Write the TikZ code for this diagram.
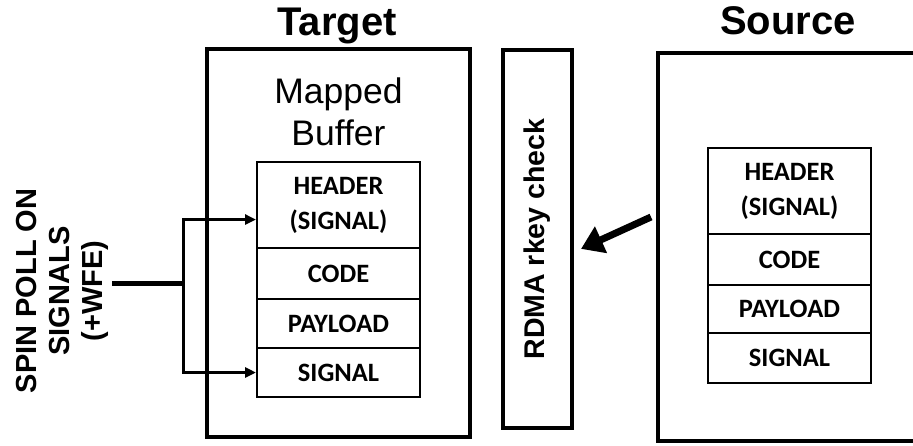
\documentclass[tikz,border=0pt]{standalone}
\usepackage{fontspec}
\setmainfont{Liberation Sans}
\newfontfamily\cellfont{Carlito}
\usetikzlibrary{arrows.meta}

\begin{document}
\begin{tikzpicture}[
      x=1pt, y=-1pt,
      outer/.style={rectangle,
                    draw,
                    line width=3.5pt,
                    minimum width=263pt,
                    minimum height=388pt},
      gate/.style={rectangle,
                   draw,
                   line width=3.5pt,
                   rotate=90,
                   minimum width=378pt,
                   minimum height=69pt,
                   font=\bfseries\fontsize{28.5}{32}\selectfont},
      cell/.style={rectangle,
                   draw,
                   line width=2pt,
                   minimum width=163pt,
                   inner sep=0pt,
                   align=center,
                   font=\cellfont\bfseries\fontsize{26.5}{35}\selectfont},
      title/.style={anchor=base,
                    font=\bfseries\fontsize{40}{46}\selectfont},
      side/.style={rotate=90,
                   align=center,
                   inner sep=4pt,
                   font=\bfseries\fontsize{29}{33}\selectfont},
      tip/.style={line width=3pt,
                  -{Triangle[length=11pt,width=10pt]}},
      push/.style={line width=7pt,
                   -{Triangle[length=22pt,width=28pt]},
                   shorten >=8pt}
    ]
    \useasboundingbox (0,0) rectangle (913,445);

    % titles
    \draw (337,35) node[title] (ttitle) {Target};
    \draw (788,34) node[title] (stitle) {Source};

    % target side
    \draw (338.5,243) node[outer] (target) {};
    \draw (338.5,112)
          node[align=center, font=\fontsize{35.5}{42}\selectfont]
          (mapped)
          {Mapped\\Buffer};
    \draw (338.5,205)   node[cell, minimum height=86pt] (thdr) {HEADER\\(SIGNAL)};
    \draw (338.5,273.5) node[cell, minimum height=51pt] (tcode) {CODE};
    \draw (338.5,323.5) node[cell, minimum height=49pt] (tload) {PAYLOAD};
    \draw (338.5,372.5) node[cell, minimum height=49pt] (tsig) {SIGNAL};

    % rkey check
    \draw (537.5,239) node[gate] (rdma) {RDMA rkey check};

    % source side
    \draw (789.5,247) node[outer] (source) {};
    \draw (789.5,191) node[cell, minimum height=86pt] (shdr) {HEADER\\(SIGNAL)};
    \draw (789.5,259.5) node[cell, minimum height=51pt] (scode) {CODE};
    \draw (789.5,309)   node[cell, minimum height=48pt] (sload) {PAYLOAD};
    \draw (789.5,358)   node[cell, minimum height=50pt] (ssig) {SIGNAL};

    % polling
    \draw (62,291)
          node[side]
          (spin)
          {SPIN POLL ON\\SIGNALS\\(+WFE)};
    \coordinate (fork) at (183,283);
    \draw [line width=5pt] (spin.south |- fork) -- (fork);
    \draw [tip] (fork) |- (thdr.190);
    \draw [tip] (fork) |- (tsig.west);

    % write into target
    \coordinate (write) at (651,217);
    \draw [push] (write) -- (rdma.-110);

\end{tikzpicture}
\end{document}
